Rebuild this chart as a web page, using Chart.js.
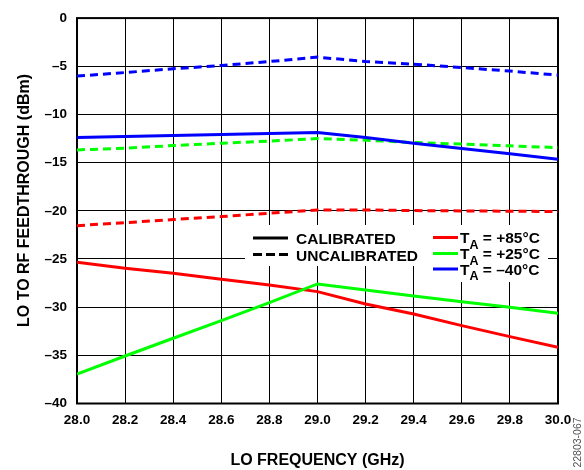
<!DOCTYPE html>
<html><head><meta charset="utf-8">
<script src="https://cdn.jsdelivr.net/npm/chart.js@4.4.1/dist/chart.umd.min.js"></script>
<style>html,body{margin:0;padding:0;background:#fff;}#wrap{width:584px;height:470px;position:relative}</style>
</head><body><div id="wrap"><canvas id="c" width="584" height="470"></canvas></div>
<script>
// ---- data ----
const freqGHz = [28.0, 28.2, 28.4, 28.6, 28.8, 29.0, 29.2, 29.4, 29.6, 29.8, 30.0];
const cal85   = [-25.34, -25.96, -26.48, -27.10, -27.69, -28.39, -29.67, -30.71, -31.92, -33.06, -34.16];
const cal25   = [-36.94, -35.07, -33.23, -31.40, -29.53, -27.59, -28.21, -28.84, -29.43, -30.01, -30.64];
const calM40  = [-12.40, -12.29, -12.19, -12.09, -11.98, -11.88, -12.40, -12.98, -13.54, -14.09, -14.64];
const uncal85 = [-21.54, -21.23, -20.91, -20.60, -20.25, -19.91, -19.91, -19.98, -20.01, -20.04, -20.08];
const uncal25 = [-13.68, -13.50, -13.23, -12.98, -12.77, -12.50, -12.67, -12.92, -13.08, -13.26, -13.44];
const uncalM40= [-6.02, -5.65, -5.26, -4.92, -4.51, -4.05, -4.51, -4.78, -5.13, -5.50, -5.92];
const xTickValues = [28.0, 28.2, 28.4, 28.6, 28.8, 29.0, 29.2, 29.4, 29.6, 29.8, 30.0];
const xTickLabels = ['28.0','28.2','28.4','28.6','28.8','29.0','29.2','29.4','29.6','29.8','30.0'];
const yTickValues = [-40, -35, -30, -25, -20, -15, -10, -5, 0];
const yTickLabels = ['\u201340','\u201335','\u201330','\u201325','\u201320','\u201315','\u201310','\u20135','0'];
const xTitle = 'LO FREQUENCY (GHz)';
const yTitle = 'LO TO RF FEEDTHROUGH (dBm)';
const legendStyleLabels = ['CALIBRATED', 'UNCALIBRATED'];
const legendTempLabels = [' = +85\u00B0C', ' = +25\u00B0C', ' = \u201340\u00B0C'];
const figureId = '22803-067';

const FONT = '"Liberation Sans", Arial, sans-serif';
const RED = '#ff0000', GREEN = '#00ff00', BLUE = '#0000ff';
const DASH = [8, 5];

function pts(ys) { return freqGHz.map((x, i) => ({x: x, y: ys[i]})); }
function ds(ys, color, dashed) {
  return { data: pts(ys), borderColor: color, borderWidth: 3, borderDash: dashed ? DASH : [],
           pointRadius: 0, fill: false, tension: 0 };
}

const decorPlugin = {
  id: 'decor',
  beforeDatasetsDraw(chart) {
    const {ctx, chartArea: a} = chart;
    ctx.save();
    ctx.strokeStyle = '#000'; ctx.lineWidth = 2;
    ctx.strokeRect(a.left, a.top, a.right - a.left, a.bottom - a.top);
    ctx.restore();
  },
  afterDatasetsDraw(chart) {
    const ctx = chart.ctx;
    ctx.save();
    // legend backgrounds
    ctx.fillStyle = '#fff';
    ctx.fillRect(245, 225, 185, 41);
    ctx.fillRect(429, 225, 119, 57);
    // style samples
    ctx.strokeStyle = '#000'; ctx.lineWidth = 3; ctx.lineCap = 'butt';
    ctx.setLineDash([]);
    ctx.beginPath(); ctx.moveTo(253, 238); ctx.lineTo(288, 238); ctx.stroke();
    ctx.setLineDash([9, 4]);
    ctx.beginPath(); ctx.moveTo(253, 254.5); ctx.lineTo(288, 254.5); ctx.stroke();
    ctx.setLineDash([]);
    ctx.fillStyle = '#000';
    ctx.font = 'bold 15.5px ' + FONT;
    ctx.textBaseline = 'alphabetic'; ctx.textAlign = 'left';
    ctx.fillText(legendStyleLabels[0], 296, 243.5);
    ctx.fillText(legendStyleLabels[1], 296, 261);
    // temperature entries
    const cols = [RED, GREEN, BLUE];
    const ys = [237.5, 253.5, 269];
    for (let i = 0; i < 3; i++) {
      ctx.strokeStyle = cols[i]; ctx.lineWidth = 3;
      ctx.beginPath(); ctx.moveTo(433, ys[i]); ctx.lineTo(458, ys[i]); ctx.stroke();
      const base = ys[i] + 5.8;
      ctx.fillStyle = '#000';
      ctx.font = 'bold 15.5px ' + FONT;
      ctx.fillText('T', 460, base);
      let x = 460 + ctx.measureText('T').width;
      ctx.font = 'bold 12.5px ' + FONT;
      ctx.fillText('A', x, base + 5.5);
      x += ctx.measureText('A').width;
      ctx.font = 'bold 15.5px ' + FONT;
      ctx.fillText(legendTempLabels[i], x, base);
    }
    ctx.restore();
  },
  afterDraw(chart) {
    const ctx = chart.ctx;
    ctx.save();
    ctx.fillStyle = '#000';
    ctx.font = 'bold 16px ' + FONT;
    ctx.textAlign = 'center'; ctx.textBaseline = 'middle';
    ctx.translate(25, 200.5); ctx.rotate(-Math.PI / 2);
    ctx.fillText(yTitle, 0, 0);
    ctx.restore();
    ctx.save();
    ctx.fillStyle = '#555';
    ctx.font = '10.5px ' + FONT;
    ctx.textAlign = 'center'; ctx.textBaseline = 'middle';
    ctx.translate(578, 442.5); ctx.rotate(-Math.PI / 2);
    ctx.fillText(figureId, 0, 0);
    ctx.restore();
  }
};

new Chart(document.getElementById('c'), {
  type: 'line',
  data: { datasets: [
    ds(calM40, BLUE, false), ds(cal25, GREEN, false), ds(cal85, RED, false),
    ds(uncalM40, BLUE, true), ds(uncal25, GREEN, true), ds(uncal85, RED, true)
  ]},
  options: {
    responsive: false, animation: false,
    layout: { padding: { left: 0, top: 18, right: 26, bottom: 0 } },
    plugins: { legend: { display: false }, tooltip: { enabled: false } },
    scales: {
      x: {
        type: 'linear', min: 28, max: 30,
        afterBuildTicks(s) { s.ticks = xTickValues.map(v => ({value: v})); },
        afterFit(s) { s.height = 66.5; },
        grid: { color: '#000', lineWidth: 1, drawTicks: false },
        border: { display: false },
        ticks: { autoSkip: false, maxRotation: 0, padding: 9, color: '#000',
                 font: { family: FONT, size: 13.5, weight: 'bold' },
                 callback: (v, i) => xTickLabels[i] },
        title: { display: true, text: xTitle, color: '#000', padding: { top: 0, bottom: 0 },
                 font: { family: FONT, size: 16, weight: 'bold' } }
      },
      y: {
        type: 'linear', min: -40, max: 0,
        afterBuildTicks(s) { s.ticks = yTickValues.map(v => ({value: v})); },
        afterFit(s) { s.width = 77; },
        grid: { color: '#000', lineWidth: 1, drawTicks: false },
        border: { display: false },
        ticks: { autoSkip: false, padding: 10, color: '#000',
                 font: { family: FONT, size: 13.5, weight: 'bold' },
                 callback: (v, i) => yTickLabels[i] }
      }
    }
  },
  plugins: [decorPlugin]
});
</script>
</body></html>
